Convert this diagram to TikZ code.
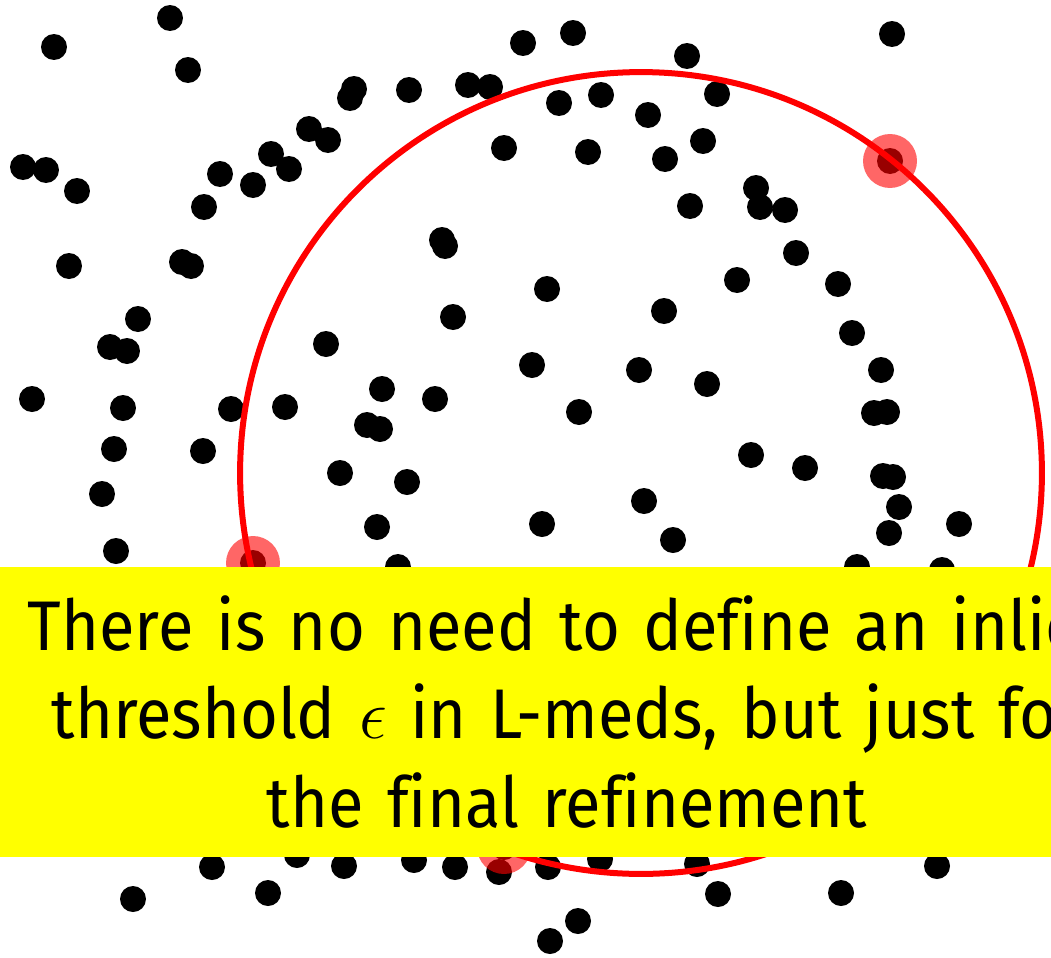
\RequirePackage{fix-cm}
\documentclass[tikz,border=0pt]{standalone}
\usepackage{fontspec}
\setmainfont[FakeStretch=0.925, Ligatures=NoCommon, WordSpace=0.8]{Fira Sans}
\usepackage{amsmath}
\DeclareMathSizes{40}{40}{28}{20}
\usetikzlibrary{positioning}
\definecolor{NoteYellow}{HTML}{FFFF00}
\definecolor{FitRed}{HTML}{FF0000}
\tikzset{
  blackdot/.style={fill=black},
  hitdot/.style={fill=FitRed, fill opacity=0.6},
  fitcircle/.style={draw=FitRed, line width=0.12cm},
  note/.style={
    rectangle, fill=NoteYellow,
    minimum width=22.68cm, minimum height=5.8cm,
    text width=24cm, align=center, inner sep=0pt,
    font=\fontsize{40}{50.4}\selectfont
  },
}

\begin{document}
\begin{tikzpicture}[x=0.02cm, y=-0.02cm]

\useasboundingbox (0,0) rectangle (1051,957);
\fill[white] (0,0) rectangle (1051,957);
\clip (0,0) rectangle (1051,957);

% point cloud
\foreach \px/\py in {
  54/47, 170/18, 188/70, 523/43, 573/33, 687/56, 892/34,
  354/89, 350/98, 409/90, 468/85, 490/87,
  559/103, 601/95, 648/115, 717/94,
  23/167, 46/170, 77/191,
  220/174, 204/207, 253/185, 271/154, 289/169, 309/129, 328/140,
  504/148, 588/152, 665/159, 703/141,
  756/188, 760/207, 785/210, 690/206,
  69/266, 182/262, 191/266, 442/240, 445/246,
  547/289, 664/311, 737/280, 796/253, 838/284,
  138/319, 110/347, 127/351, 32/399, 123/408, 231/409, 285/407,
  326/344, 114/449, 203/451, 340/473, 102/494, 116/551,
  453/317, 532/365, 639/370, 707/384, 382/389, 435/399,
  367/425, 380/429, 579/412, 407/482, 377/527, 542/524,
  644/501, 673/540, 398/567,
  852/333, 881/370, 874/413, 887/412, 751/455, 805/468,
  883/476, 893/477, 899/507, 889/533, 959/524, 857/567, 942/570,
  890/161, 253/563, 504/847,
  133/899, 212/867, 268/893, 297/855, 344/866, 414/860, 455/867,
  499/872, 548/867, 600/859, 697/864, 937/866, 718/894, 841/893,
  578/921, 550/941}
  \fill[blackdot] (\px,\py) circle[radius=0.26cm];

% points that define the circle
\coordinate (hitA) at (890,161);
\coordinate (hitB) at (253,563);
\coordinate (hitC) at (504,847);
\foreach \h in {hitA, hitB, hitC}
  \fill[hitdot] (\h) circle[radius=0.54cm];

% fitted circle
\coordinate (centre) at (641,473);
\draw[fitcircle] (centre) circle[radius=8.02cm];

% remark
\node[note] (remark) at (567,712) {
  There is no need to define an inlier\\
  threshold $\epsilon$ in L-meds, but just for\\
  the final refinement
};

\end{tikzpicture}
\end{document}
